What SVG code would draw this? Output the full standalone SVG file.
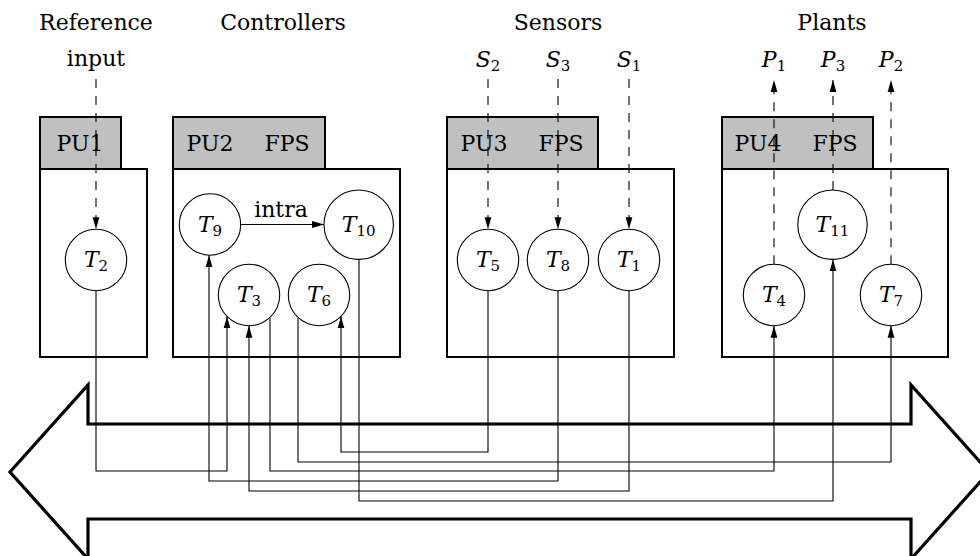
<svg xmlns="http://www.w3.org/2000/svg" width="980" height="556" viewBox="0 0 980 556">
<defs>
<marker id="ah" viewBox="0 0 12 8" refX="12" refY="4" markerWidth="12" markerHeight="8" markerUnits="userSpaceOnUse" orient="auto"><path d="M0,0.6 L12,4 L0,7.4 z" fill="#000"/></marker>
</defs>
<style>
text{font-family:"DejaVu Serif","Liberation Serif",serif;font-size:22px;fill:#000}
.c{text-anchor:middle}
.m{font-style:italic}
.sub{font-size:15px}
.tab{fill:#c0c0c0;stroke:#000;stroke-width:2}
.box{fill:#fff;stroke:#000;stroke-width:2}
.node{fill:#fff;stroke:#000;stroke-width:1.1}
.dash{fill:none;stroke:#000;stroke-width:1.1;stroke-dasharray:9 8;marker-end:url(#ah)}
.wire{fill:none;stroke:#000;stroke-width:1.1;marker-end:url(#ah)}
.bus{fill:none;stroke:#000;stroke-width:3.2;stroke-linejoin:miter}
</style>
<rect width="980" height="556" fill="#fff"/>

<g id="network">
<path class="bus" d="M88,424 V385 L10,472 L88,559 V519 H911 V559 L989,472 L911,385 V424 Z"/>
</g>

<g id="headings">
<text class="c" x="96" y="30">Reference</text>
<text class="c" x="96" y="66">input</text>
<text class="c" x="283" y="30">Controllers</text>
<text class="c" x="558" y="30">Sensors</text>
<text class="c" x="832" y="30">Plants</text>
<text class="c" x="488" y="67"><tspan class="m">S</tspan><tspan class="sub" dy="4">2</tspan></text>
<text class="c" x="558" y="67"><tspan class="m">S</tspan><tspan class="sub" dy="4">3</tspan></text>
<text class="c" x="629" y="67"><tspan class="m">S</tspan><tspan class="sub" dy="4">1</tspan></text>
<text class="c" x="774" y="67"><tspan class="m">P</tspan><tspan class="sub" dy="4">1</tspan></text>
<text class="c" x="833" y="67"><tspan class="m">P</tspan><tspan class="sub" dy="4">3</tspan></text>
<text class="c" x="891" y="67"><tspan class="m">P</tspan><tspan class="sub" dy="4">2</tspan></text>
</g>

<g id="PU1">
<rect class="box" x="40" y="169" width="107" height="188"/>
<rect class="tab" x="40" y="117" width="81" height="52"/>
<text class="c" x="80" y="151">PU1</text>
</g>
<g id="PU2">
<rect class="box" x="173" y="169" width="227" height="188"/>
<rect class="tab" x="173" y="117" width="152" height="52"/>
<text class="c" x="210" y="151">PU2</text>
<text class="c" x="287" y="151">FPS</text>
</g>
<g id="PU3">
<rect class="box" x="447" y="169" width="227" height="188"/>
<rect class="tab" x="447" y="117" width="151" height="52"/>
<text class="c" x="484" y="151">PU3</text>
<text class="c" x="561" y="151">FPS</text>
</g>
<g id="PU4">
<rect class="box" x="722" y="169" width="226" height="188"/>
<rect class="tab" x="722" y="117" width="151" height="52"/>
<text class="c" x="758" y="151">PU4</text>
<text class="c" x="835" y="151">FPS</text>
</g>

<g id="T2"><circle class="node" cx="96" cy="260" r="30.7"/><text class="c" x="96" y="267"><tspan class="m">T</tspan><tspan class="sub" dy="4">2</tspan></text></g>
<g id="T9"><circle class="node" cx="210" cy="224.5" r="30.7"/><text class="c" x="210" y="231.5"><tspan class="m">T</tspan><tspan class="sub" dy="4">9</tspan></text></g>
<g id="T10"><circle class="node" cx="358.7" cy="224.7" r="34.7"/><text class="c" x="358.7" y="231.7"><tspan class="m">T</tspan><tspan class="sub" dy="4">10</tspan></text></g>
<g id="T3"><circle class="node" cx="249" cy="295" r="30.7"/><text class="c" x="249" y="302"><tspan class="m">T</tspan><tspan class="sub" dy="4">3</tspan></text></g>
<g id="T6"><circle class="node" cx="319" cy="295" r="30.7"/><text class="c" x="319" y="302"><tspan class="m">T</tspan><tspan class="sub" dy="4">6</tspan></text></g>
<g id="T5"><circle class="node" cx="488" cy="260" r="30.7"/><text class="c" x="488" y="267"><tspan class="m">T</tspan><tspan class="sub" dy="4">5</tspan></text></g>
<g id="T8"><circle class="node" cx="558" cy="260" r="30.7"/><text class="c" x="558" y="267"><tspan class="m">T</tspan><tspan class="sub" dy="4">8</tspan></text></g>
<g id="T1"><circle class="node" cx="629" cy="260" r="30.7"/><text class="c" x="629" y="267"><tspan class="m">T</tspan><tspan class="sub" dy="4">1</tspan></text></g>
<g id="T11"><circle class="node" cx="832.5" cy="224.7" r="34.7"/><text class="c" x="832.5" y="231.7"><tspan class="m">T</tspan><tspan class="sub" dy="4">11</tspan></text></g>
<g id="T4"><circle class="node" cx="774" cy="295" r="30.7"/><text class="c" x="774" y="302"><tspan class="m">T</tspan><tspan class="sub" dy="4">4</tspan></text></g>
<g id="T7"><circle class="node" cx="891" cy="295" r="30.7"/><text class="c" x="891" y="302"><tspan class="m">T</tspan><tspan class="sub" dy="4">7</tspan></text></g>

<g id="connectors">
<path class="dash" d="M96,79 V229.3"/>
<path class="dash" d="M488,79 V229.3"/>
<path class="dash" d="M558,79 V229.3"/>
<path class="dash" d="M629,79 V229.3"/>
<path class="dash" d="M774,264.3 V80"/>
<path class="dash" d="M833,190 V80"/>
<path class="dash" d="M891,264.3 V80"/>
<path class="wire" d="M241,224.5 H324"/>
<text class="c" x="281" y="217">intra</text>
<path class="wire" d="M96,290.7 V471 H227 V316.4"/>
<path class="wire" d="M488,290.7 V452 H341 V316.4"/>
<path class="wire" d="M298,317.4 V462 H891 V325.7"/>
<path class="wire" d="M270,317.4 V471 H774 V325.7"/>
<path class="wire" d="M558,290.7 V481 H209 V255.2"/>
<path class="wire" d="M629,290.7 V491 H249 V325.7"/>
<path class="wire" d="M359,259.4 V501 H833 V259.4"/>
</g>
</svg>
